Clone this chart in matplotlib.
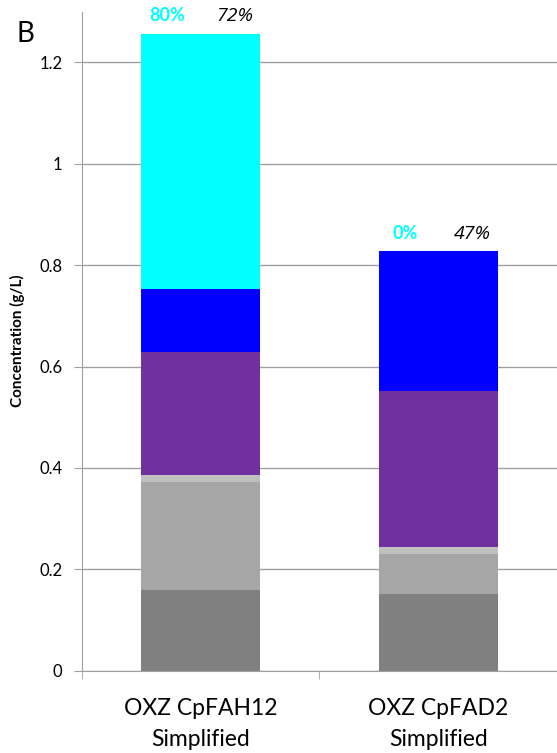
import numpy as np
import matplotlib.pyplot as plt

plt.rcParams['font.family'] = ['Lato', 'DejaVu Sans']

# Data
categories = ['OXZ CpFAH12\nSimplified', 'OXZ CpFAD2\nSimplified']
dark_gray = [0.159, 0.151]
mid_gray = [0.213, 0.080]
light_gray = [0.014, 0.012]
purple = [0.243, 0.309]
blue = [0.124, 0.276]
cyan = [0.504, 0.0]
cyan_pct = ['80%', '0%']
black_pct = ['72%', '47%']

segments = [dark_gray, mid_gray, light_gray, purple, blue, cyan]
colors = ['#808080', '#A6A6A6', '#C0C0C0', '#7030A0', '#0000FF', '#00FFFF']

fig = plt.figure(figsize=(5.57, 7.53), dpi=100)
ax = fig.add_axes([0.147, 0.1094, 0.853, 0.875])

x = np.arange(len(categories))
bottom = np.zeros(len(categories))
for vals, c in zip(segments, colors):
    ax.bar(x, vals, 0.5, bottom=bottom, color=c, linewidth=0, zorder=3)
    bottom += np.array(vals)

for i in range(len(categories)):
    ax.text(x[i] - 0.14, bottom[i] + 0.018, cyan_pct[i], color='#00FFFF',
            fontweight='bold', fontsize=13, ha='center', va='bottom')
    ax.text(x[i] + 0.145, bottom[i] + 0.016, black_pct[i], color='black',
            fontstyle='italic', fontsize=14, ha='center', va='bottom',
            family=['Open Sans', 'DejaVu Sans'])

ax.set_xlim(-0.5, 1.48)
ax.set_ylim(0, 1.3)
ax.set_yticks([0, 0.2, 0.4, 0.6, 0.8, 1, 1.2])
ax.set_yticklabels(['0', '0.2', '0.4', '0.6', '0.8', '1', '1.2'], fontsize=12)
ax.yaxis.grid(True, color='#A0A0A0', linewidth=1, zorder=0)
ax.set_axisbelow(True)

ax.set_xticks(x)
ax.set_xticklabels(categories, fontsize=16.5, linespacing=1.55)
ax.tick_params(axis='x', length=0, pad=20)
ax.set_xticks([-0.5, 0.5, 1.5], minor=True)
ax.tick_params(axis='x', which='minor', length=6, color='#A0A0A0', direction='out')
ax.tick_params(axis='y', length=6, color='#A0A0A0', direction='out', pad=8)

for s in ['top', 'right']:
    ax.spines[s].set_visible(False)
ax.spines['left'].set_color('#A0A0A0')
ax.spines['bottom'].set_color('#A0A0A0')

ax.set_ylabel('Concentration (g/L)', fontsize=11, fontweight='bold', labelpad=10)
fig.text(0.03, 0.955, 'B', fontsize=20, ha='left', va='center')

fig.savefig('out.png', dpi=100)
